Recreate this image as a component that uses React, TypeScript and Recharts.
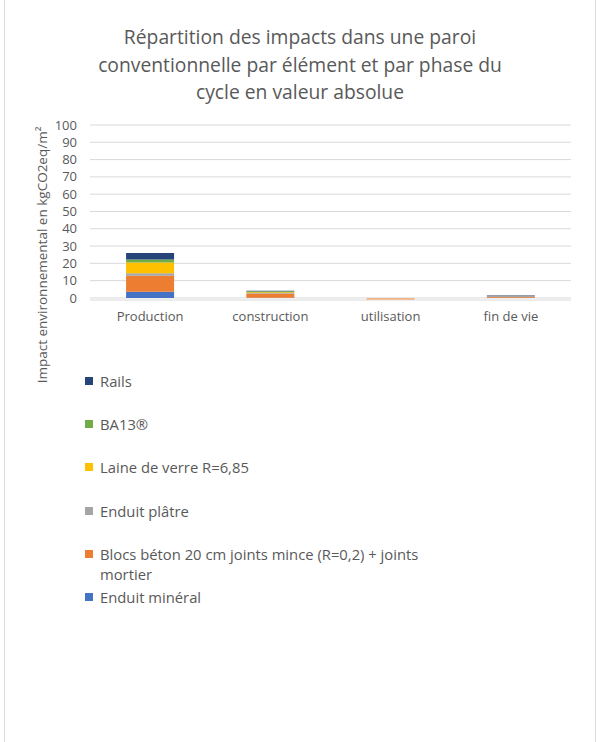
import React from "react"
import { Bar, BarChart, CartesianGrid, Cell, XAxis, YAxis } from "recharts"

const phases = ["Production", "construction", "utilisation", "fin de vie"]

const enduitMineral = [3.6, 0.1, 0, 0.1]
const blocsBeton = [9.2, 2.5, -1.0, 0.5]
const enduitPlatre = [1.4, 0.2, 0, 0.9]
const laineVerre = [6.3, 0.5, 0, 0]
const ba13 = [1.7, 0.5, 0, 0]
const rails = [3.8, 0.4, 0, 0.2]

const yTicks = [0, 10, 20, 30, 40, 50, 60, 70, 80, 90, 100]

const data = phases.map((name, i) => ({
  name,
  enduitMineral: enduitMineral[i],
  blocsBeton: blocsBeton[i],
  enduitPlatre: enduitPlatre[i],
  laineVerre: laineVerre[i],
  ba13: ba13[i],
  rails: rails[i],
}))

const series = [
  { key: "enduitMineral", label: "Enduit minéral", color: "#4472C4" },
  { key: "blocsBeton", label: "Blocs béton 20 cm joints mince (R=0,2) + joints mortier", color: "#ED7D31" },
  { key: "enduitPlatre", label: "Enduit plâtre", color: "#A5A5A5" },
  { key: "laineVerre", label: "Laine de verre R=6,85", color: "#FFC000" },
  { key: "ba13", label: "BA13®", color: "#70AD47" },
  { key: "rails", label: "Rails", color: "#264478" },
]

const font = "'Open Sans', sans-serif"
const grey = "#595959"

export default function App() {
  const legendItems = [...series].reverse()
  const legendTops = [371, 414, 457, 501, 544, 587]
  return (
    <div
      style={{
        position: "absolute",
        left: 4,
        top: -1,
        width: 590,
        height: 742,
        border: "1px solid #d9d9d9",
        background: "#fff",
        fontFamily: font,
      }}
    >
      <div
        style={{
          position: "absolute",
          left: 0,
          top: 23,
          width: 590,
          textAlign: "center",
          color: grey,
          fontSize: 19.3,
          lineHeight: "27.5px",
        }}
      >
        Répartition des impacts dans une paroi
        <br />
        conventionnelle par élément et par phase du
        <br />
        cycle en valeur absolue
      </div>
      <div
        style={{
          position: "absolute",
          left: 37,
          top: 255,
          transform: "translate(-50%, -50%) rotate(-90deg)",
          whiteSpace: "nowrap",
          color: grey,
          fontSize: 13.5,
        }}
      >
        Impact environnemental en kgCO2eq/m²
      </div>
      <BarChart
        width={588}
        height={740}
        data={data}
        barCategoryGap="30%"
        margin={{ top: 125, right: 22, bottom: 410, left: 40 }}
      >
        <CartesianGrid vertical={false} stroke="#d9d9d9" />
        <XAxis
          dataKey="name"
          height={30}
          tickLine={false}
          axisLine={false}
          tick={{ fill: grey, fontSize: 13, fontFamily: font }}
          tickMargin={6}
        />
        <YAxis
          width={45}
          domain={[-1.2, 100]}
          ticks={yTicks}
          interval={0}
          allowDataOverflow
          tickLine={false}
          axisLine={false}
          tick={{ fill: grey, fontSize: 13, fontFamily: font }}
          tickMargin={7}
        />
        {series.map((s) => (
          <Bar key={s.key} dataKey={s.key} stackId="a" fill={s.color} isAnimationActive={false}>
            {data.map((d, i) => (
              <Cell
                key={i}
                fill={(d as any)[s.key] < 0 ? "#F4B183" : s.color}
              />
            ))}
          </Bar>
        ))}
      </BarChart>
      {legendItems.map((s, i) => (
        <div
          key={s.key}
          style={{
            position: "absolute",
            left: 80,
            top: legendTops[i],
            width: 400,
            display: "flex",
            alignItems: "flex-start",
            color: grey,
            fontSize: 14.8,
            lineHeight: "20px",
          }}
        >
          <span
            style={{
              display: "inline-block",
              width: 8,
              height: 8,
              background: s.color,
              marginTop: 6,
              marginRight: 7,
              flexShrink: 0,
            }}
          />
          <span style={{ width: 345 }}>{s.label}</span>
        </div>
      ))}
    </div>
  )
}
